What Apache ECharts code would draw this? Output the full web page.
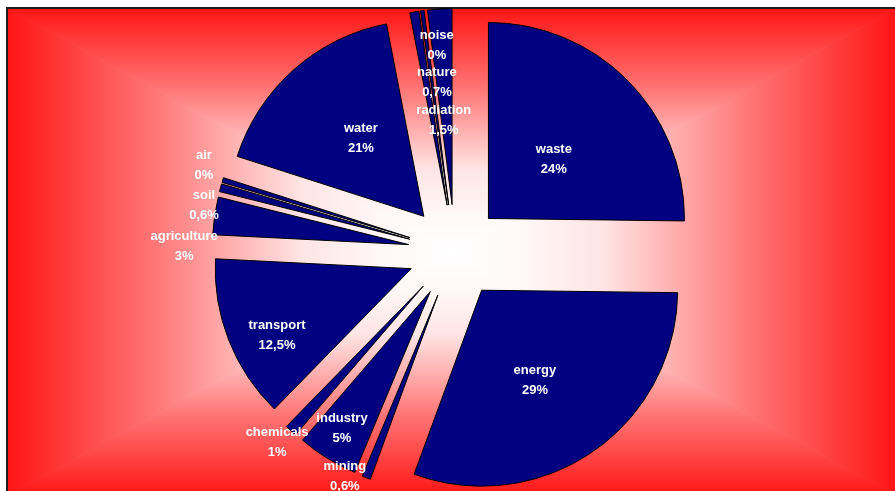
<!DOCTYPE html>
<html>
<head>
<meta charset="utf-8">
<title>pie</title>
<script src="https://cdn.jsdelivr.net/npm/echarts@6/dist/echarts.min.js"></script>
<style>
  html, body { margin: 0; padding: 0; background: #fff; }
  #chart { width: 895px; height: 491px; }
</style>
</head>
<body>
<div id="chart"></div>
<script>
// slices, clockwise from 12 o'clock
const categories = ['waste', 'energy', 'mining', 'industry', 'chemicals', 'transport',
  'agriculture', 'soil', 'air', 'water', 'nature', 'noise', 'radiation'];
// printed shares (the label text)
const shares = [24, 29, 0.6, 5, 1, 12.5, 3, 0.6, 0, 21, 0.7, 0, 1.5];
const sliceSizes = [25.2, 30.4, 0.7, 5.0, 1.0, 13.5, 3.1, 0.65, 0.4, 17.0, 0.75, 0.3, 2.0];

// label placement: distance from the slice tip (fraction of radius) and turn off the bisector (deg)
const labelReach = [0.448, 0.533, 1.037, 0.83, 1.09, 0.764, 1.145, 1.063, 1.115, 0.509, 0.63, 0.818, 0.433];
const labelTurn = [2.8, 3.9, 5.8, 1.2, 0.7, -4.9, -8.9, -6.0, 2.3, 2.5, 4.9, 3.5, -2.0];

const PIE_X = 455, PIE_Y = 251.5, PIE_R = 196, EXPLODE = 47;

// bisector of every slice, degrees clockwise from 12 o'clock
const total = sliceSizes.reduce((a, b) => a + b, 0);
let acc = 0;
const bisectors = sliceSizes.map(v => {
  const mid = (acc + v / 2) / total * 360;
  acc += v;
  return mid;
});

const myChart = echarts.init(document.getElementById('chart'));

// frame + "from centre" rectangular gradient
const L = 7, T = 8, R = 897, B = 496, CX = 452, CY = 252;
const stops = (rev) => {
  let s = [
    { offset: 0, color: '#ff1414' },
    { offset: 0.33, color: '#ff7575' },
    { offset: 0.66, color: '#ffe4e4' },
    { offset: 0.85, color: '#fff8f8' },
    { offset: 1, color: '#ffffff' }
  ];
  if (rev) s = s.map(a => ({ offset: 1 - a.offset, color: a.color })).reverse();
  return s;
};
const tri = (pts, x2, y2, rev) => {
  const fill = { type: 'linear', x: 0, y: 0, x2: x2, y2: y2, colorStops: stops(rev), global: false };
  return {
    type: 'polygon',
    z: 0,
    silent: true,
    shape: { points: pts },
    style: { fill: fill, stroke: fill, lineWidth: 1 }
  };
};

let option = {
  animation: false,
  backgroundColor: '#ffffff',
  graphic: [
    tri([[L, T], [R, T], [CX, CY]], 0, 1, false),
    tri([[L, B], [R, B], [CX, CY]], 0, 1, true),
    tri([[L, T], [L, B], [CX, CY]], 1, 0, false),
    tri([[R, T], [R, B], [CX, CY]], 1, 0, true),
    {
      type: 'rect',
      z: 1,
      silent: true,
      shape: { x: L, y: T, width: R - L, height: B - T },
      style: { fill: null, stroke: '#1e1e1e', lineWidth: 2 }
    }
  ],
  series: [
    {
      type: 'pie',
      center: [PIE_X, PIE_Y],
      radius: [0, PIE_R],
      startAngle: 90,
      clockwise: true,
      selectedMode: 'multiple',
      selectedOffset: EXPLODE,
      avoidLabelOverlap: false,
      minShowLabelAngle: 0,
      itemStyle: { color: '#000080', borderColor: '#000000', borderWidth: 1 },
      select: { itemStyle: { color: '#000080', borderColor: '#000000', borderWidth: 1 } },
      emphasis: { disabled: true },
      label: {
        show: true,
        position: 'inside',
        color: '#ffffff',
        fontFamily: 'Liberation Sans, Arial, sans-serif',
        fontWeight: 'bold',
        fontSize: 13,
        lineHeight: 20,
        formatter: (p) => p.name + '\n' + String(shares[p.dataIndex]).replace('.', ',') + '%'
      },
      labelLine: { show: false },
      // labelRect is measured before the explode shift, the shift is added back afterwards
      labelLayout: (p) => {
        const i = p.dataIndex;
        const a = (bisectors[i] + labelTurn[i]) * Math.PI / 180;
        const wantX = PIE_X + labelReach[i] * PIE_R * Math.sin(a);
        const wantY = PIE_Y - labelReach[i] * PIE_R * Math.cos(a);
        const r = p.labelRect;
        return {
          dx: wantX - (r.x + r.width / 2),
          dy: wantY - (r.y + r.height / 2),
          hideOverlap: false
        };
      },
      data: categories.map((c, i) => ({ name: c, value: sliceSizes[i], selected: true }))
    }
  ]
};
myChart.setOption(option);
</script>
</body>
</html>
